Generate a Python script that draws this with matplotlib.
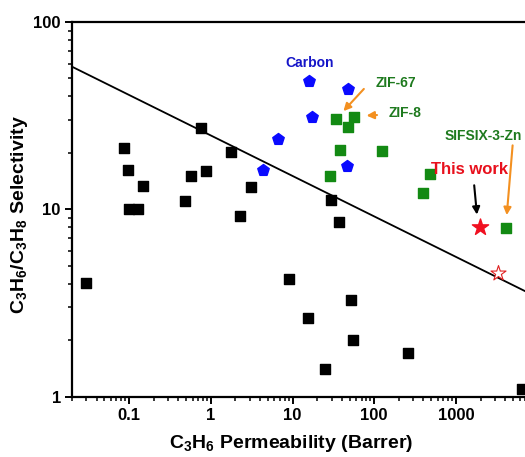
import numpy as np
import matplotlib
matplotlib.use('Agg')
from matplotlib import pyplot as plt
from matplotlib.ticker import LogLocator, FixedLocator, FixedFormatter, NullFormatter

plt.rcParams['font.family'] = ['Liberation Sans', 'DejaVu Sans']
plt.rcParams['mathtext.fontset'] = 'custom'
plt.rcParams['mathtext.rm'] = 'Liberation Sans:bold'
plt.rcParams['mathtext.bf'] = 'Liberation Sans:bold'

# polymer membranes (black squares)
polymer_perm = [0.030, 0.086, 0.097, 0.10, 0.128, 0.147, 0.48, 0.57, 0.755, 0.87,
                1.76, 2.26, 3.09, 9.0, 15.4, 24.9, 29.5, 36.9, 51.8, 54.7, 258, 6400]
polymer_sel = [4.04, 21.2, 16.2, 10.0, 10.0, 13.3, 11.1, 15.1, 27.2, 16.0,
               20.2, 9.2, 13.2, 4.25, 2.63, 1.40, 11.2, 8.55, 3.28, 2.0, 1.71, 1.10]

# carbon membranes (blue pentagons)
carbon_perm = [16.0, 48.0, 17.2, 6.55, 4.36, 45.8]
carbon_sel = [48.4, 43.7, 31.0, 23.8, 16.2, 17.1]

# MOF membranes (green squares)
mof_perm = [33.9, 56.8, 47.1, 37.9, 125, 28.6, 480, 390, 4050]
mof_sel = [30.3, 31.2, 27.6, 20.7, 20.5, 15.1, 15.5, 12.2, 7.94]

# this work
this_perm = [1960]
this_sel = [8.07]
this_open_perm = [3230]
this_open_sel = [4.57]

# upper bound line
bound_perm = [0.02, 7000]
bound_sel = [57.7, 3.66]

fig = plt.figure(figsize=(5.25, 4.57), dpi=100)
ax = fig.add_axes([0.1371, 0.132, 0.8629, 0.820])

ax.plot(bound_perm, bound_sel, color='black', lw=1.3, zorder=2)
ax.scatter(polymer_perm, polymer_sel, marker='s', s=56, color='black', zorder=3)
ax.scatter(carbon_perm, carbon_sel, marker='p', s=75, color='#0a0aff', zorder=3)
ax.scatter(mof_perm, mof_sel, marker='s', s=44, color='#138a13', zorder=3)
ax.scatter(this_perm, this_sel, marker='*', s=150, color='#f01020', zorder=4)
ax.scatter(this_open_perm, this_open_sel, marker='*', s=130, facecolor='white',
           edgecolor='#e02020', lw=0.8, zorder=4)

ax.set_xscale('log')
ax.set_yscale('log')
ax.set_xlim(0.02, 7000)
ax.set_ylim(1, 100)

ax.xaxis.set_major_locator(FixedLocator([0.1, 1, 10, 100, 1000]))
ax.xaxis.set_major_formatter(FixedFormatter(['0.1', '1', '10', '100', '1000']))
ax.xaxis.set_minor_locator(LogLocator(base=10, subs=np.arange(2, 10)))
ax.xaxis.set_minor_formatter(NullFormatter())
ax.yaxis.set_major_locator(FixedLocator([1, 10, 100]))
ax.yaxis.set_major_formatter(FixedFormatter(['1', '10', '100']))
ax.yaxis.set_minor_locator(LogLocator(base=10, subs=np.arange(2, 10)))
ax.yaxis.set_minor_formatter(NullFormatter())

ax.spines['right'].set_visible(False)
for s in ['left', 'bottom', 'top']:
    ax.spines[s].set_linewidth(1.6)
ax.tick_params(which='major', direction='out', length=5, width=1.4, labelsize=12, pad=3)
ax.tick_params(which='minor', direction='out', length=3, width=1.1)
ax.tick_params(top=False, right=False, which='both')
for lab in ax.get_xticklabels() + ax.get_yticklabels():
    lab.set_fontweight('bold')

ax.set_xlabel(r'C$_3$H$_6$ Permeability (Barrer)', fontsize=14, fontweight='bold')
ax.set_ylabel(r'C$_3$H$_6$/C$_3$H$_8$ Selectivity', fontsize=14, fontweight='bold')
ax.xaxis.set_label_coords(0.483, -0.097)
ax.yaxis.set_label_coords(-0.093, 0.485)

# labels and arrows
ax.text(16.3, 60.4, 'Carbon', color='#1515c8', fontsize=10, fontweight='bold',
        ha='center', va='center')
ax.text(184, 47.2, 'ZIF-67', color='#1e7a1e', fontsize=10, fontweight='bold',
        ha='center', va='center')
ax.text(237, 32.6, 'ZIF-8', color='#1e7a1e', fontsize=10, fontweight='bold',
        ha='center', va='center')
ax.text(2190, 24.6, 'SIFSIX-3-Zn', color='#1e7a1e', fontsize=10, fontweight='bold',
        ha='center', va='center')
ax.text(1480, 16.4, 'This work', color='#e8101c', fontsize=12, fontweight='bold',
        ha='center', va='center')

orange = dict(arrowstyle='-|>', color='#f39020', lw=1.5, mutation_scale=11)
black = dict(arrowstyle='-|>', color='black', lw=1.5, mutation_scale=11)
ax.annotate('', xy=(39.8, 32.6), xytext=(78.7, 45.0), arrowprops=orange)
ax.annotate('', xy=(74.5, 31.6), xytext=(117, 31.9), arrowprops=orange)
ax.annotate('', xy=(4160, 9.0), xytext=(4970, 22.7), arrowprops=orange)
ax.annotate('', xy=(1820, 9.06), xytext=(1660, 13.9), arrowprops=black)

plt.savefig('out.png', dpi=100)
